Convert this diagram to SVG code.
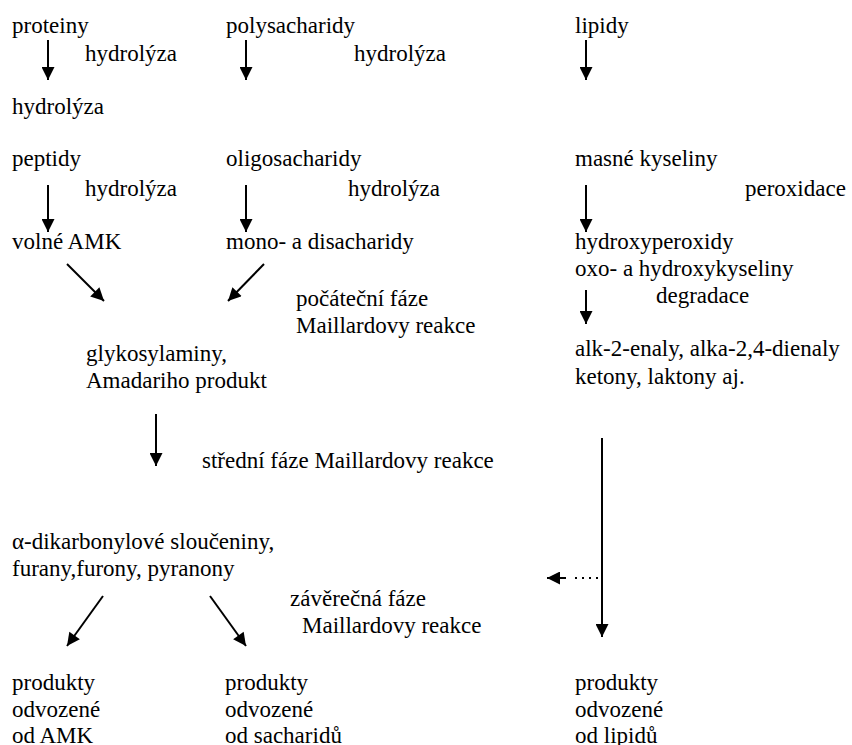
<svg xmlns="http://www.w3.org/2000/svg" width="852" height="745" viewBox="0 0 852 745">
<defs>
<marker id="ah" viewBox="0 0 10 10" refX="10" refY="5" markerWidth="14" markerHeight="13" markerUnits="userSpaceOnUse" orient="auto"><path d="M0,0 L10,5 L0,10 z" fill="#000"/></marker>
</defs>
<rect width="852" height="745" fill="#fff"/>
<g id="connectors" stroke="#000" stroke-width="2" fill="none">
<line x1="48" y1="40" x2="48" y2="80" marker-end="url(#ah)"/>
<line x1="246" y1="40" x2="246" y2="80" marker-end="url(#ah)"/>
<line x1="586" y1="40" x2="586" y2="80" marker-end="url(#ah)"/>
<line x1="48" y1="185" x2="48" y2="232" marker-end="url(#ah)"/>
<line x1="246" y1="185" x2="246" y2="232" marker-end="url(#ah)"/>
<line x1="586" y1="185" x2="586" y2="232" marker-end="url(#ah)"/>
<line x1="586" y1="290" x2="586" y2="324" marker-end="url(#ah)"/>
<line x1="67" y1="264" x2="104" y2="301" marker-end="url(#ah)"/>
<line x1="264" y1="264" x2="228" y2="301" marker-end="url(#ah)"/>
<line x1="156" y1="414" x2="156" y2="466" marker-end="url(#ah)"/>
<line x1="103" y1="596" x2="67" y2="646" marker-end="url(#ah)"/>
<line x1="210" y1="596" x2="246" y2="646" marker-end="url(#ah)"/>
<line x1="602" y1="438" x2="602" y2="637" marker-end="url(#ah)"/>
<line x1="598" y1="578" x2="570" y2="578" stroke-dasharray="2 5"/>
<line x1="566" y1="578" x2="547" y2="578" marker-end="url(#ah)"/>
</g>
<g id="n-proteiny"><text x="12" y="33" font-family="Liberation Serif" font-size="23">proteiny</text></g>
<g id="n-polysacharidy"><text x="226" y="33" font-family="Liberation Serif" font-size="23">polysacharidy</text></g>
<g id="n-lipidy"><text x="575" y="33" font-family="Liberation Serif" font-size="23">lipidy</text></g>
<g id="l-hydrolyza1"><text x="85" y="61" font-family="Liberation Serif" font-size="23">hydrolýza</text></g>
<g id="l-hydrolyza2"><text x="354" y="61" font-family="Liberation Serif" font-size="23">hydrolýza</text></g>
<g id="l-hydrolyza3"><text x="12" y="114" font-family="Liberation Serif" font-size="23">hydrolýza</text></g>
<g id="n-peptidy"><text x="12" y="166" font-family="Liberation Serif" font-size="23">peptidy</text></g>
<g id="n-oligosacharidy"><text x="226" y="166" font-family="Liberation Serif" font-size="23">oligosacharidy</text></g>
<g id="n-masne"><text x="575" y="166" font-family="Liberation Serif" font-size="23">masné kyseliny</text></g>
<g id="l-hydrolyza4"><text x="85" y="196" font-family="Liberation Serif" font-size="23">hydrolýza</text></g>
<g id="l-hydrolyza5"><text x="348" y="196" font-family="Liberation Serif" font-size="23">hydrolýza</text></g>
<g id="l-peroxidace"><text x="745" y="196" font-family="Liberation Serif" font-size="23">peroxidace</text></g>
<g id="n-volne"><text x="12" y="249" font-family="Liberation Serif" font-size="23">volné AMK</text></g>
<g id="n-mono"><text x="226" y="249" font-family="Liberation Serif" font-size="23">mono- a disacharidy</text></g>
<g id="n-hydroxy"><text x="575" y="249" font-family="Liberation Serif" font-size="23">hydroxyperoxidy</text><text x="575" y="276" font-family="Liberation Serif" font-size="23">oxo- a hydroxykyseliny</text></g>
<g id="l-degradace"><text x="656" y="303" font-family="Liberation Serif" font-size="23">degradace</text></g>
<g id="l-pocatecni"><text x="296" y="306" font-family="Liberation Serif" font-size="23">počáteční fáze</text><text x="296" y="333" font-family="Liberation Serif" font-size="23">Maillardovy reakce</text></g>
<g id="n-alk"><text x="575" y="356" font-family="Liberation Serif" font-size="23">alk-2-enaly, alka-2,4-dienaly</text><text x="575" y="384" font-family="Liberation Serif" font-size="23">ketony, laktony aj.</text></g>
<g id="n-glyko"><text x="86" y="361" font-family="Liberation Serif" font-size="23">glykosylaminy,</text><text x="86" y="388" font-family="Liberation Serif" font-size="23">Amadariho produkt</text></g>
<g id="l-stredni"><text x="202" y="468" font-family="Liberation Serif" font-size="23">střední fáze Maillardovy reakce</text></g>
<g id="n-dikarbonyl"><text x="12" y="549" font-family="Liberation Serif" font-size="23">α-dikarbonylové sloučeniny,</text><text x="12" y="576" font-family="Liberation Serif" font-size="23">furany,furony, pyranony</text></g>
<g id="l-zaverecna"><text x="290" y="606" font-family="Liberation Serif" font-size="23">závěrečná fáze</text><text x="302" y="633" font-family="Liberation Serif" font-size="23">Maillardovy reakce</text></g>
<g id="n-prod-amk"><text x="12" y="690" font-family="Liberation Serif" font-size="23">produkty</text><text x="12" y="717" font-family="Liberation Serif" font-size="23">odvozené</text><text x="12" y="743" font-family="Liberation Serif" font-size="23">od AMK</text></g>
<g id="n-prod-sach"><text x="225" y="690" font-family="Liberation Serif" font-size="23">produkty</text><text x="225" y="717" font-family="Liberation Serif" font-size="23">odvozené</text><text x="225" y="743" font-family="Liberation Serif" font-size="23">od sacharidů</text></g>
<g id="n-prod-lip"><text x="575" y="690" font-family="Liberation Serif" font-size="23">produkty</text><text x="575" y="717" font-family="Liberation Serif" font-size="23">odvozené</text><text x="575" y="743" font-family="Liberation Serif" font-size="23">od lipidů</text></g>
</svg>
